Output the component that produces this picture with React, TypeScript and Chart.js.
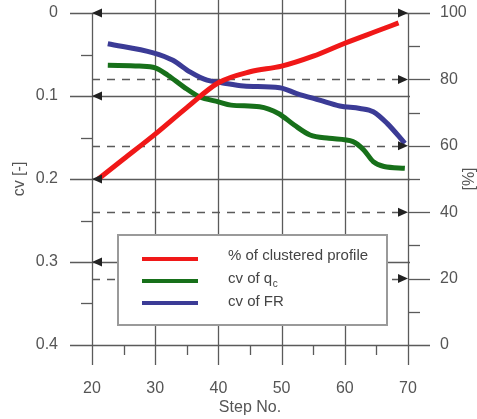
import React, { useEffect, useRef } from "react";
import { Chart, registerables } from "chart.js";

Chart.register(...registerables);

// ---- data ----
const redSteps = [21, 25, 30, 35, 40, 45, 50, 55, 60, 65, 68.5];
const clusteredPct = [50, 56, 63.5, 71.5, 79, 82.3, 84, 87, 90.9, 94.5, 97];

const greenSteps = [22.5, 27.5, 30, 32, 34.5, 37, 40, 42, 46.5, 49.5, 52, 54.5, 57.5, 61.3, 63, 64.5, 66.2, 69.5];
const cvQc = [0.063, 0.064, 0.066, 0.075, 0.089, 0.101, 0.107, 0.111, 0.113, 0.121, 0.135, 0.147, 0.151, 0.155, 0.165, 0.179, 0.185, 0.187];

const blueSteps = [22.5, 29.7, 32.8, 35.5, 38.2, 40.5, 44, 49.7, 52.4, 56, 59.2, 62.4, 64.5, 66.7, 69.5];
const cvFR = [0.037, 0.048, 0.057, 0.071, 0.081, 0.084, 0.088, 0.09, 0.097, 0.105, 0.112, 0.115, 0.119, 0.133, 0.157];

const xMajorTicks = [20, 30, 40, 50, 60, 70];
const xMinorTicks = [25, 35, 45, 55, 65];
const cvMajorTicks = [0, 0.1, 0.2, 0.3, 0.4];
const cvMinorTicks = [0.05, 0.15, 0.25, 0.35];
const pctMinorTicks = [90, 70, 50, 30, 10];
const pctDashed = [80, 60, 40, 20];
const leftArrowCv = [0, 0.1, 0.2, 0.3];
const rightArrowPct = [100, 80, 60, 40, 20];

const seriesLabels = ["% of clustered profile", "cv of q", "cv of FR"];
const seriesColors = ["#f01818", "#17701a", "#3b3b96"];

const TEXT = "#555";
const GRID = "#5a5a5a";
const FONT = "Liberation Sans, Arial, sans-serif";

const decor = {
  id: "decor",
  beforeDatasetsDraw(chart: any) {
    const { ctx, chartArea: a, scales } = chart;
    const x = scales.x, y = scales.y, y2 = scales.y2;
    const line = (x1: number, y1: number, x2: number, y2p: number) => {
      ctx.beginPath();
      ctx.moveTo(x1, y1);
      ctx.lineTo(x2, y2p);
      ctx.stroke();
    };
    ctx.save();
    ctx.strokeStyle = GRID;
    ctx.lineWidth = 1.3;
    xMajorTicks.forEach((v, i) => {
      const px = Math.round(x.getPixelForValue(v)) + 0.5;
      const top = i === 0 || i === xMajorTicks.length - 1 ? a.top : 0;
      line(px, top, px, a.bottom + 20);
    });
    xMinorTicks.forEach((v) => {
      const px = Math.round(x.getPixelForValue(v)) + 0.5;
      line(px, a.bottom, px, a.bottom + 10);
    });
    cvMajorTicks.forEach((v, i) => {
      const py = Math.round(y.getPixelForValue(v)) + 0.5;
      const right = i === 0 || i === cvMajorTicks.length - 1 ? a.right + 22 : a.right + 2;
      line(a.left - 22, py, right, py);
    });
    cvMinorTicks.forEach((v) => {
      const py = Math.round(y.getPixelForValue(v)) + 0.5;
      line(a.left - 11, py, a.left, py);
    });
    pctMinorTicks.forEach((v) => {
      const py = Math.round(y2.getPixelForValue(v)) + 0.5;
      line(a.right, py, a.right + 12, py);
    });
    pctDashed.forEach((v) => {
      const py = Math.round(y2.getPixelForValue(v)) + 0.5;
      line(a.right, py, a.right + 22, py);
      ctx.save();
      ctx.setLineDash([8, 7]);
      line(a.left, py, a.right - 10, py);
      ctx.restore();
    });
    ctx.restore();
  },
  afterDatasetsDraw(chart: any) {
    const { ctx, chartArea: a, scales } = chart;
    const y = scales.y, y2 = scales.y2;
    ctx.save();
    ctx.fillStyle = "#222";
    leftArrowCv.forEach((v) => {
      const py = y.getPixelForValue(v);
      ctx.beginPath();
      ctx.moveTo(a.left, py);
      ctx.lineTo(a.left + 10, py - 4.5);
      ctx.lineTo(a.left + 10, py + 4.5);
      ctx.closePath();
      ctx.fill();
    });
    rightArrowPct.forEach((v) => {
      const py = y2.getPixelForValue(v);
      ctx.beginPath();
      ctx.moveTo(a.right, py);
      ctx.lineTo(a.right - 10, py - 4.5);
      ctx.lineTo(a.right - 10, py + 4.5);
      ctx.closePath();
      ctx.fill();
    });

    // legend
    const lx = a.left + 26, ly = a.top + 222, lw = 269, lh = 90;
    ctx.fillStyle = "#fff";
    ctx.fillRect(lx, ly, lw, lh);
    ctx.strokeStyle = "#9a9a9a";
    ctx.lineWidth = 2;
    ctx.strokeRect(lx, ly, lw, lh);
    const rows = [24, 46, 68];
    const textRows = [21, 44, 67];
    seriesLabels.forEach((lab, i) => {
      ctx.strokeStyle = seriesColors[i];
      ctx.lineWidth = 4;
      ctx.beginPath();
      ctx.moveTo(lx + 24, ly + rows[i]);
      ctx.lineTo(lx + 80, ly + rows[i]);
      ctx.stroke();
      ctx.fillStyle = "#444";
      ctx.font = `15px ${FONT}`;
      ctx.textBaseline = "middle";
      ctx.textAlign = "left";
      ctx.fillText(lab, lx + 110, ly + textRows[i]);
      if (i === 1) {
        const w = ctx.measureText(lab).width;
        ctx.font = `10px ${FONT}`;
        ctx.fillText("c", lx + 110 + w + 0.5, ly + textRows[i] + 5);
      }
    });

    // right axis title
    ctx.fillStyle = TEXT;
    ctx.font = `16px ${FONT}`;
    ctx.textAlign = "center";
    ctx.textBaseline = "middle";
    ctx.translate(470, (a.top + a.bottom) / 2);
    ctx.rotate(-Math.PI / 2);
    ctx.fillText("[%]", 0, 0);
    ctx.restore();
  },
};

export default function App() {
  const ref = useRef<HTMLCanvasElement>(null);
  useEffect(() => {
    const font = { family: FONT, size: 16 };
    const vFit = (w: number) => (s: any) => {
      s.width = w;
      s.paddingTop = 0;
      s.paddingBottom = 0;
    };
    const chart = new Chart(ref.current!, {
      type: "line",
      data: {
        datasets: [
          {
            label: seriesLabels[0],
            data: redSteps.map((s, i) => ({ x: s, y: clusteredPct[i] })),
            borderColor: seriesColors[0],
            borderWidth: 5,
            yAxisID: "y2",
            cubicInterpolationMode: "monotone",
            pointRadius: 0,
          },
          {
            label: seriesLabels[1],
            data: greenSteps.map((s, i) => ({ x: s, y: cvQc[i] })),
            borderColor: seriesColors[1],
            borderWidth: 5,
            yAxisID: "y",
            cubicInterpolationMode: "monotone",
            pointRadius: 0,
          },
          {
            label: seriesLabels[2],
            data: blueSteps.map((s, i) => ({ x: s, y: cvFR[i] })),
            borderColor: seriesColors[2],
            borderWidth: 5,
            yAxisID: "y",
            cubicInterpolationMode: "monotone",
            pointRadius: 0,
          },
        ],
      },
      options: {
        responsive: false,
        animation: false,
        layout: { padding: { top: 13, left: 0, right: 0, bottom: 0 } },
        plugins: { legend: { display: false }, tooltip: { enabled: false }, title: { display: false } },
        scales: {
          x: {
            type: "linear",
            position: "bottom",
            min: 20,
            max: 70,
            afterFit: (s: any) => { s.height = 74; s.paddingLeft = 0; s.paddingRight = 0; },
            grid: { display: false, drawTicks: false },
            border: { display: false },
            ticks: { stepSize: 10, padding: 34, color: TEXT, font },
            title: { display: true, text: "Step No.", color: TEXT, font, padding: { top: 0, bottom: 2 } },
          },
          y: {
            type: "linear",
            position: "left",
            reverse: true,
            min: 0,
            max: 0.4,
            afterFit: vFit(92),
            grid: { display: false, drawTicks: false },
            border: { display: false },
            ticks: {
              stepSize: 0.1,
              padding: 34,
              color: TEXT,
              font,
              callback: (v: any) => (Number(v) === 0 ? "0" : Number(v).toFixed(1)),
            },
            title: { display: true, text: "cv [-]", color: TEXT, font, padding: { top: 10, bottom: 0 } },
          },
          y2: {
            type: "linear",
            position: "right",
            min: 0,
            max: 100,
            afterFit: vFit(69),
            grid: { display: false, drawTicks: false },
            border: { display: false },
            ticks: { stepSize: 20, padding: 32, color: TEXT, font },
          },
        },
      } as any,
      plugins: [decor],
    });
    return () => chart.destroy();
  }, []);
  return (
    <div style={{ position: "absolute", left: 0, top: 0, width: 477, height: 419, background: "#fff" }}>
      <canvas ref={ref} width={477} height={419} style={{ display: "block" }} />
    </div>
  );
}
